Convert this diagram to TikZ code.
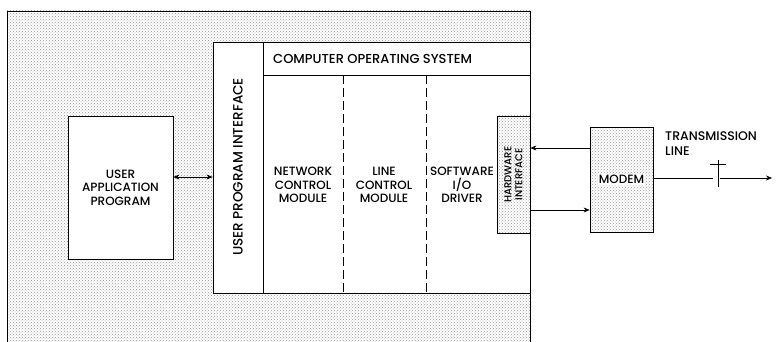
\documentclass[tikz,border=0pt]{standalone}
\usepackage{fontspec}
\setmainfont{Poppins}[BoldFont={Poppins Medium}]
\usetikzlibrary{arrows.meta,positioning,patterns}

\begin{document}
\begin{tikzpicture}[x=1pt, y=-1pt,
  stipple/.style={pattern=crosshatch dots, pattern color=black!40},
  box/.style={draw, thick, fill=white, align=center, inner sep=0pt,
              font=\fontsize{12}{13.5}\selectfont\bfseries},
  lbl/.style={align=center, inner sep=0pt, font=\fontsize{12}{13.5}\selectfont\bfseries},
  arr/.style={-{Stealth[length=6pt,width=5pt]}, semithick}
]
  \useasboundingbox (0,0) rectangle (776,342);

  % background region of the host
  \fill[white] (0,0) rectangle (776,342);
  \fill[stipple] (7,11) rectangle (530,342);
  \draw[thick] (7,342) -- (7,11) -- (530,11) -- (530,342);

  \node[box, minimum width=105, minimum height=143] (app) at (120.5,187.5)
    {USER\\APPLICATION\\PROGRAM};

  \node[box, minimum width=317, minimum height=251] (os) at (371.5,167.5) {};
  \draw[thick] (263,42) -- (263,293);
  \draw[thick] (263,75) -- (530,75);
  \draw[thick, dash pattern=on 9pt off 4pt] (343,75) -- (343,293);
  \draw[thick, dash pattern=on 9pt off 4pt] (426,75) -- (426,293);

  \node[lbl, anchor=west, font=\fontsize{13}{15}\selectfont\bfseries] (title)
    at (273,59) {COMPUTER OPERATING SYSTEM};
  \node[lbl, rotate=90, font=\fontsize{13.5}{16}\selectfont\bfseries] (upi)
    at (238,167) {USER PROGRAM INTERFACE};
  \node[lbl] (ncm) at (303,185) {NETWORK\\CONTROL\\MODULE};
  \node[lbl] (lcm) at (384,185) {LINE\\CONTROL\\MODULE};
  \node[lbl] (sio) at (462,185) {SOFTWARE\\I/O\\DRIVER};

  \node[draw, thick, stipple, minimum width=33, minimum height=117,
        inner sep=0pt] (hw) at (513.5,174.5) {};
  \node[lbl, rotate=90, font=\fontsize{10}{11}\selectfont\bfseries] (hwtxt)
    at (hw.center) {HARDWARE\\INTERFACE};

  \node[draw, thick, stipple, minimum width=63, minimum height=105,
        inner sep=0pt] (modem) at (621.5,179.5) {};
  \node[lbl, fill=white, inner sep=1pt, font=\fontsize{12}{13}\selectfont\bfseries]
    (modemtxt) at (modem.center) {MODEM};

  \node[lbl, align=left, anchor=north west, font=\fontsize{12.5}{16}\selectfont\bfseries]
    (tline) at (665,131) {TRANSMISSION\\LINE};
  \coordinate (brk) at (718,178);
  \coordinate (lineend) at (772,178);

  \draw[{Stealth[length=6pt,width=5pt]}-{Stealth[length=6pt,width=5pt]}, semithick]
    (app.east |- 0,177) -- (os.west |- 0,177);
  \draw[arr] (modem.west |- 0,148) -- (hw.east |- 0,148);
  \draw[arr] (hw.east |- 0,210) -- (modem.west |- 0,210);
  \draw[semithick] (modem.east |- brk) -- ([xshift=-5pt]brk);
  \draw[arr] ([xshift=2pt]brk) -- (lineend);
  \draw[thick] ([yshift=18pt]brk) -- ([yshift=-9pt]brk);
  \draw[thick] ([xshift=-8pt,yshift=14pt]brk) -- ([xshift=8pt,yshift=14pt]brk);
\end{tikzpicture}
\end{document}
